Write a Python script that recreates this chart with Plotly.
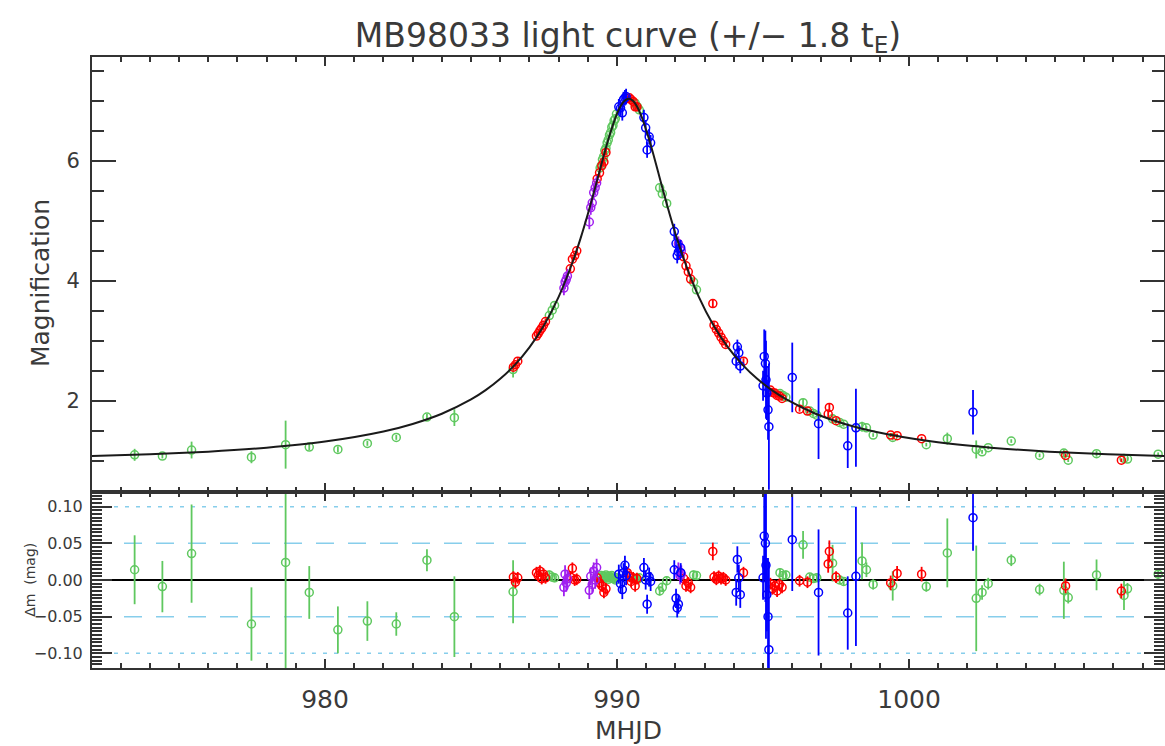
import plotly.graph_objects as go

# ---------------------------------------------------------------
# Fitted point-lens model, sampled along the event
# ---------------------------------------------------------------
model_t = [972.0, 974.0, 976.0, 978.0, 980.0, 982.0, 983.0, 984.0, 985.0,
           985.5, 986.0, 986.5, 987.0, 987.5, 988.0, 988.5, 988.75, 989.0,
           989.2, 989.4, 989.7, 990.0, 990.2, 990.3, 990.4, 990.5, 990.6,
           990.8, 991.1, 991.4, 991.6, 991.8, 992.05, 992.3, 992.8, 993.3,
           993.8, 994.3, 994.8, 995.3, 995.8, 996.8, 997.8, 998.8, 1000.8,
           1002.8, 1004.8, 1006.8, 1008.8]
model_mag = [1.081, 1.110, 1.153, 1.219, 1.321, 1.489, 1.615, 1.785, 2.023,
             2.178, 2.367, 2.600, 2.891, 3.260, 3.732, 4.343, 4.708, 5.114,
             5.463, 5.825, 6.354, 6.787, 6.969, 7.017, 7.033, 7.017, 6.969,
             6.787, 6.354, 5.825, 5.463, 5.114, 4.708, 4.343, 3.732, 3.260,
             2.891, 2.600, 2.367, 2.178, 2.023, 1.785, 1.615, 1.489, 1.321,
             1.219, 1.153, 1.110, 1.081]

# ---------------------------------------------------------------
# Photometry per telescope/band: time, magnification, error,
# residual (mag) and residual error
# ---------------------------------------------------------------
green_t = [973.48, 974.43, 975.43, 977.48, 978.65, 979.46, 980.44, 981.45,
           982.44, 983.49, 984.43, 986.44, 987.68, 987.78, 987.86,
           989.42, 989.46, 989.50, 989.54, 989.58, 989.62, 989.66, 989.70,
           989.74, 989.78, 989.82, 989.86, 989.90, 989.94, 989.98,
           990.62, 990.70, 990.76, 991.46, 991.55, 991.70, 992.62, 992.72,
           995.58, 995.68, 995.78, 996.37, 996.60, 996.72, 996.84,
           997.38, 997.62, 997.76, 998.39, 998.54, 998.77, 999.44,
           1000.59, 1001.31, 1002.30, 1002.50, 1002.71, 1003.50, 1004.47,
           1005.30, 1005.45, 1006.42, 1007.36, 1007.48, 1008.53]
green_mag = [1.10, 1.08, 1.18, 1.06, 1.27, 1.23, 1.19, 1.29,
             1.39, 1.73, 1.72, 2.52, 3.42, 3.51, 3.59,
             5.88, 5.92, 6.02, 6.07, 6.17, 6.21, 6.30, 6.35,
             6.43, 6.47, 6.56, 6.59, 6.67, 6.70, 6.78,
             6.96, 6.90, 6.85, 5.55, 5.45, 5.29, 3.98, 3.85,
             2.12, 2.09, 2.06, 1.97, 1.83, 1.79, 1.76,
             1.70, 1.64, 1.61, 1.57, 1.55, 1.43, 1.39,
             1.27, 1.37, 1.19, 1.15, 1.22, 1.33, 1.09,
             1.13, 1.01, 1.12, 1.04, 1.03, 1.11]
green_err = [0.10, 0.04, 0.14, 0.10, 0.40, 0.05, 0.05, 0.04,
             0.04, 0.05, 0.14, 0.13, 0.05, 0.05, 0.05,
             0.06, 0.06, 0.06, 0.06, 0.06, 0.06, 0.06, 0.06,
             0.06, 0.06, 0.06, 0.06, 0.06, 0.06, 0.06,
             0.06, 0.06, 0.06, 0.06, 0.06, 0.06, 0.05, 0.05,
             0.05, 0.05, 0.05, 0.06, 0.04, 0.04, 0.04,
             0.08, 0.04, 0.04, 0.08, 0.03, 0.03, 0.05,
             0.03, 0.10, 0.15, 0.03, 0.03, 0.03, 0.03,
             0.06, 0.03, 0.05, 0.05, 0.03, 0.03]
green_res = [0.014, -0.009, 0.036, -0.060, 0.024, -0.017, -0.068, -0.056,
             -0.060, 0.027, -0.050, -0.016, 0.007, 0.004, 0.003,
             0.004, 0.006, 0.002, 0.005, 0.003, 0.007, 0.004, 0.001,
             0.005, 0.003, 0.006, 0.002, 0.004, 0.000, 0.003,
             0.002, 0.001, 0.003, -0.015, -0.010, -0.001, 0.007, 0.006,
             0.010, 0.006, 0.007, 0.048, 0.004, 0.002, 0.003,
             0.023, 0.000, -0.002, 0.026, 0.014, -0.006, -0.008,
             -0.009, 0.037, -0.025, -0.017, -0.005, 0.027, -0.013,
             -0.014, -0.024, 0.007, -0.021, -0.012, 0.008]
green_res_err = [0.047, 0.035, 0.067, 0.050, 0.160, 0.036, 0.032, 0.027,
                 0.016, 0.015, 0.055, 0.043, 0.006, 0.006, 0.006,
                 0.004, 0.004, 0.004, 0.004, 0.004, 0.004, 0.004, 0.004,
                 0.004, 0.004, 0.004, 0.004, 0.004, 0.004, 0.004,
                 0.005, 0.005, 0.005, 0.006, 0.006, 0.006, 0.006, 0.006,
                 0.006, 0.006, 0.006, 0.019, 0.005, 0.005, 0.005,
                 0.025, 0.005, 0.005, 0.025, 0.010, 0.007, 0.020,
                 0.007, 0.047, 0.072, 0.010, 0.008, 0.008, 0.008,
                 0.039, 0.008, 0.021, 0.020, 0.008, 0.008]

red_t = [986.45, 986.52, 986.60,
         987.24, 987.30, 987.36, 987.42, 987.48, 987.55,
         988.40, 988.47, 988.55, 988.62,
         989.32, 989.40, 989.48, 989.55, 989.62,
         990.35, 990.42, 990.48, 990.55, 990.62, 990.68,
         992.28, 992.36, 992.44, 992.52,
         993.28, 993.32, 993.40, 993.48, 993.56, 993.64, 993.72,
         994.33,
         995.25, 995.32, 995.40, 995.48, 995.56, 995.65,
         996.25, 996.52, 997.23, 997.27, 997.50,
         999.37, 999.59, 1000.43, 1005.36, 1007.27]
red_mag = [2.56, 2.60, 2.66,
           3.08, 3.12, 3.17, 3.21, 3.26, 3.32,
           4.20, 4.36, 4.42, 4.50,
           5.70, 5.80, 5.92, 5.98, 6.14,
           7.04, 7.05, 7.02, 6.99, 6.90, 6.90,
           4.40, 4.25, 4.15, 4.03,
           3.62, 3.26, 3.19, 3.13, 3.06, 3.00, 2.94,
           2.66,
           2.18, 2.14, 2.13, 2.09, 2.08, 2.04,
           1.86, 1.83, 1.78, 1.89, 1.67,
           1.43, 1.42, 1.37, 1.09, 1.01]
red_err = [0.05] * 28 + [0.06] + [0.05] * 7 + [0.04] * 6 + [0.04, 0.04, 0.05, 0.06, 0.04] + [0.03] * 5
red_res = [0.004, -0.003, 0.003,
           0.010, 0.006, 0.012, 0.002, 0.008, 0.003,
           0.004, 0.016, 0.000, 0.001,
           0.003, -0.004, -0.008, -0.017, -0.012,
           0.010, 0.005, -0.002, 0.003, -0.008, 0.002,
           0.002, -0.008, -0.004, -0.010,
           0.039, 0.004, 0.001, 0.005, 0.002, 0.003, 0.000,
           0.010,
           -0.005, -0.012, -0.008, -0.015, -0.006, -0.010,
           -0.001, -0.003, 0.022, 0.039, 0.004,
           -0.004, 0.009, 0.008, -0.008, -0.015]
red_res_err = [0.008] * 28 + [0.012] + [0.008] * 7 + [0.008] * 6 + [0.008, 0.008, 0.012, 0.015, 0.008] + [0.010] * 5

purple_t = [988.18, 988.22, 988.26, 988.30,
            989.05, 989.10, 989.15, 989.20, 989.25, 989.30,
            992.10, 992.16, 992.20]
purple_mag = [3.88, 3.98, 4.02, 4.08,
              4.98, 5.22, 5.30, 5.47, 5.55, 5.63,
              4.62, 4.55, 4.50]
purple_err = [0.12] * 13
purple_res = [-0.010, 0.008, -0.004, 0.002,
              -0.014, 0.005, -0.006, 0.012, 0.000, 0.017,
              0.012, 0.006, 0.008]
purple_res_err = [0.012] * 13

blue_t = [990.06, 990.12, 990.18, 990.22, 990.27, 990.31,
          990.92, 990.98, 991.03, 991.10, 991.15,
          991.96, 992.02, 992.06, 992.10, 992.18,
          994.08, 994.12, 994.17, 994.22,
          995.00, 995.04, 995.08, 995.10, 995.13, 995.17, 995.20,
          996.00, 996.90, 997.90, 998.18, 1002.19]
blue_mag = [6.90, 6.88, 6.80, 7.02, 7.05, 7.07,
            6.72, 6.55, 6.18, 6.40, 6.30,
            4.82, 4.62, 4.42, 4.48, 4.55,
            2.66, 2.90, 2.80, 2.58,
            2.25, 2.74, 2.62, 2.35, 2.13, 1.85, 1.57,
            2.39, 1.62, 1.25, 1.55, 1.81]
blue_err = [0.13] * 16 + [0.12] * 4 + [0.25, 0.45, 0.55, 0.65, 0.45, 0.50, 1.05,
                                       0.58, 0.59, 0.37, 0.65, 0.37]
blue_res = [0.008, -0.005, -0.013, 0.010, 0.020, 0.006,
            0.017, 0.000, -0.033, 0.004, -0.002,
            0.014, -0.025, -0.038, -0.033, 0.010,
            -0.017, 0.028, 0.003, -0.020,
            0.003, 0.060, 0.050, 0.020, -0.020, -0.050, -0.095,
            0.055, -0.017, -0.045, 0.005, 0.085]
blue_res_err = [0.013] * 16 + [0.018] * 4 + [0.030, 0.060, 0.080, 0.100, 0.050, 0.080, 0.120,
                                            0.070, 0.086, 0.050, 0.095, 0.045]

# Residual panel guide levels
dashed_levels = [0.05, -0.05]
dotted_levels = [0.10, -0.10]

# ---------------------------------------------------------------
FONT = "DejaVu Sans"
TXT = "#3a3a3a"
AX = "#333333"
GUIDE = "rgb(135,206,235)"

fig = go.Figure()

groups = [
    ("rgb(95,200,95)", green_t, green_mag, green_err, green_res, green_res_err),
    ("rgb(255,0,0)", red_t, red_mag, red_err, red_res, red_res_err),
    ("rgb(160,32,240)", purple_t, purple_mag, purple_err, purple_res, purple_res_err),
    ("rgb(0,0,255)", blue_t, blue_mag, blue_err, blue_res, blue_res_err),
]

for col, t, mag, err, res, res_err in groups:
    marker = dict(symbol="circle-open", size=8, color=col, line=dict(width=1.5, color=col))
    fig.add_trace(go.Scatter(
        x=t, y=mag, mode="markers", xaxis="x2", yaxis="y", marker=marker,
        error_y=dict(type="data", array=err, visible=True, width=0, thickness=1.8, color=col),
        showlegend=False, hoverinfo="skip"))
    fig.add_trace(go.Scatter(
        x=t, y=res, mode="markers", xaxis="x", yaxis="y2", marker=marker,
        error_y=dict(type="data", array=res_err, visible=True, width=0, thickness=1.8, color=col),
        showlegend=False, hoverinfo="skip"))

fig.add_trace(go.Scatter(
    x=model_t, y=model_mag, mode="lines", xaxis="x2", yaxis="y",
    line=dict(color="#1a1a1a", width=2, shape="spline", smoothing=0.8),
    showlegend=False, hoverinfo="skip"))

shapes = []
for lvl in dashed_levels:
    shapes.append(dict(type="line", xref="x domain", x0=0, x1=1, yref="y2", y0=lvl, y1=lvl,
                       line=dict(color=GUIDE, width=1.5, dash="18px,14px"), layer="below"))
for lvl in dotted_levels:
    shapes.append(dict(type="line", xref="x domain", x0=0, x1=1, yref="y2", y0=lvl, y1=lvl,
                       line=dict(color=GUIDE, width=1.5, dash="4px,7px"), layer="below"))

# Axis titles placed as annotations (paper coordinates)
annotations = [
    dict(text="MHJD", xref="paper", yref="paper", x=0.5, y=-0.1031,
         xanchor="center", yanchor="middle", showarrow=False,
         font=dict(family=FONT, size=25, color=TXT)),
    dict(text="Magnification", xref="paper", yref="paper", x=-0.0485, y=0.630,
         xanchor="center", yanchor="middle", textangle=-90, showarrow=False,
         font=dict(family=FONT, size=25, color=TXT)),
    dict(text="Δm  (mag)", xref="paper", yref="paper", x=-0.058, y=0.144,
         xanchor="center", yanchor="middle", textangle=-90, showarrow=False,
         font=dict(family=FONT, size=14, color=TXT)),
]

axis_common = dict(showline=True, linecolor=AX, linewidth=2, mirror="ticks",
                   ticks="inside", tickcolor=AX, tickwidth=1.5,
                   showgrid=False, zeroline=False)
x_range = [972.02, 1008.73]

fig.update_layout(
    width=1165, height=746,
    margin=dict(l=92, r=1, t=57, b=78),
    paper_bgcolor="white", plot_bgcolor="white",
    shapes=shapes,
    annotations=annotations,
    title=dict(text="MB98033 light curve (+/− 1.8 t<sub>E</sub>)",
               x=0.5, xref="paper", xanchor="center",
               y=1 - 35 / 746, yref="container", yanchor="middle",
               font=dict(family=FONT, size=33, color=TXT)),
    xaxis=dict(**axis_common, domain=[0, 1], anchor="y2", range=x_range,
               tick0=980, dtick=10, ticklen=9,
               minor=dict(dtick=1, ticklen=5, ticks="inside", tickcolor=AX, tickwidth=1.5, showgrid=False),
               tickfont=dict(family=FONT, size=25, color=TXT), ticklabelstandoff=8,
               automargin=False),
    xaxis2=dict(**axis_common, domain=[0, 1], anchor="y", range=x_range, matches="x",
                tick0=980, dtick=10, ticklen=9, showticklabels=False,
                minor=dict(dtick=1, ticklen=5, ticks="inside", tickcolor=AX, tickwidth=1.5, showgrid=False)),
    yaxis=dict(**axis_common, domain=[0.288, 1], anchor="x2", range=[0.48, 7.73],
               tick0=0, dtick=2, ticklen=24,
               minor=dict(tick0=0, dtick=0.5, ticklen=12, ticks="inside", tickcolor=AX, tickwidth=1.5, showgrid=False),
               tickfont=dict(family=FONT, size=21, color=TXT), ticklabelstandoff=6,
               automargin=False),
    yaxis2=dict(showline=True, linecolor=AX, linewidth=2, mirror="ticks",
                ticks="inside", tickcolor=AX, tickwidth=1.5, showgrid=False,
                zeroline=True, zerolinecolor="black", zerolinewidth=2,
                domain=[0, 0.288], anchor="x", range=[-0.12, 0.12],
                tick0=0, dtick=0.05, tickformat=".2f", ticklen=20,
                minor=dict(tick0=0, dtick=0.005, ticklen=10, ticks="inside", tickcolor=AX, tickwidth=1.5, showgrid=False),
                tickfont=dict(family=FONT, size=16, color=TXT), ticklabelstandoff=4,
                automargin=False),
)

fig.write_html("out.html")
